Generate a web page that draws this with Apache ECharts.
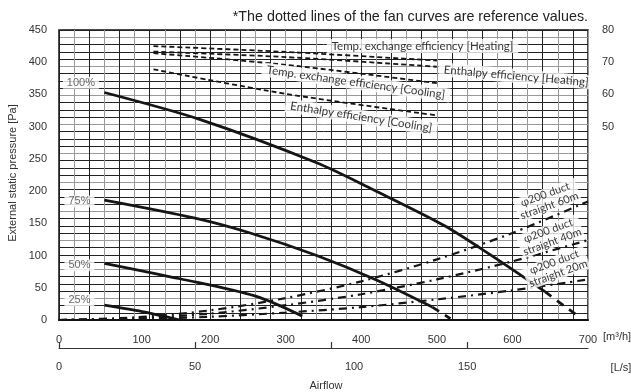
<!DOCTYPE html>
<html><head><meta charset="utf-8">
<script src="https://cdn.jsdelivr.net/npm/echarts@6/dist/echarts.min.js"></script>
<style>html,body{margin:0;padding:0;background:#fff}#c{width:631px;height:392px}</style>
</head><body><div id="c"></div>
<script>
// ---- tick labels ----
const airflowM3hTicks = [0, 100, 200, 300, 400, 500, 600, 700];
const airflowLsTicks = [0, 50, 100, 150];
const pressureTicks = [0, 50, 100, 150, 200, 250, 300, 350, 400, 450];
const efficiencyTicks = [50, 60, 70, 80];

// ---- fan curves [m3/h, Pa] ----
const fan100 = [[60, 353], [187, 311], [341, 244], [416, 202], [509, 147], [571, 101], [643, 44]];
const fan100Ref = [[643, 44], [688, 5]];
const fan75 = [[60, 186], [180, 158], [253, 135], [341, 100], [420, 62], [494, 20]];
const fan75Ref = [[494, 20], [518, 2]];
const fan50 = [[60, 88], [160, 64], [260, 37], [322, 6]];
const fan25 = [[60, 23], [110, 13], [160, 0]];
const fanLabels = ['100%', '75%', '50%', '25%'];

// ---- duct resistance curves [m3/h, Pa] ----
const duct60 = [[0, 0], [100, 4], [200, 15], [300, 34], [400, 60], [500, 94], [600, 135], [700, 184]];
const duct40 = [[0, 0], [100, 2.5], [200, 10], [300, 23], [400, 40], [500, 63], [600, 91], [700, 124]];
const duct20 = [[0, 0], [100, 1.3], [200, 5], [300, 11.5], [400, 20], [500, 32], [600, 46], [700, 63]];
const ductLabels = ['φ200 duct\nstraight 60m', 'φ200 duct\nstraight 40m', 'φ200 duct\nstraight 20m'];

// ---- efficiency curves [m3/h, %] ----
const tempHeating = [[125, 75], [300, 73.2], [500, 70.5]];
const enthHeating = [[125, 73.3], [300, 71.6], [500, 68.6]];
const tempCooling = [[125, 72.8], [300, 69.2], [500, 63.5]];
const enthCooling = [[125, 67.8], [300, 60.2], [500, 53.5]];
const effLabels = ['Temp. exchange efficiency [Heating]', 'Enthalpy efficiency [Heating]',
  'Temp. exchange efficiency [Cooling]', 'Enthalpy efficiency [Cooling]'];

const noteText = '*The dotted lines of the fan curves are reference values.';

// ---- label anchors (data coords on primary axes) ----
const fanLabelAnchors = [[29, 368], [27, 184], [27, 85], [27, 31]];
const effLabelAnchors = [[481, 425], [605, 378.6], [393, 368.6], [400, 315]];
const effLabelRotate = [0, -5, -8, -9];
const ductLabelAnchors = [[646, 186], [650, 130], [658, 81]];

const INK = '#151515';
const calibri = 'Lato, "Open Sans", sans-serif';
const arial = '"Liberation Sans", Arial, sans-serif';

function line(data, opts) {
  return Object.assign({
    type: 'line', data: data, xAxisIndex: 0, yAxisIndex: 0,
    symbol: 'none', smooth: 0.3, silent: true, z: 3,
    lineStyle: {color: INK, width: 2.6}
  }, opts);
}
const solid = {color: INK, width: 2.8};
const refDash = {color: INK, width: 2.8, type: [8, 7]};
const dashDot = {color: INK, width: 2.2, type: [8, 5, 2, 5]};
const effDash = {color: INK, width: 1.8, type: [5, 3]};

const chart = echarts.init(document.getElementById('c'), null, {renderer: 'canvas'});
chart.setOption({
  animation: false,
  backgroundColor: '#fff',
  grid: {left: 59, right: 43, top: 30, bottom: 72, show: true, borderColor: '#111', borderWidth: 1.5},
  graphic: [
    {type: 'text', right: 43, top: 10, style: {text: noteText, font: '14.3px ' + arial, fill: '#222'}},
    {type: 'text', x: 12.5, y: 173, rotation: Math.PI / 2,
      style: {text: 'External static pressure [Pa]', font: '11px ' + arial, fill: '#333', align: 'center', verticalAlign: 'middle'}},
    {type: 'text', x: 603, y: 337, style: {text: '[m³/h]', font: '11px ' + arial, fill: '#333', verticalAlign: 'middle'}},
    {type: 'text', x: 621, y: 367.5, style: {text: '[L/s]', font: '11px ' + arial, fill: '#333', align: 'center', verticalAlign: 'middle'}},
    {type: 'text', x: 326, y: 385.5, style: {text: 'Airflow', font: '11px ' + arial, fill: '#333', align: 'center', verticalAlign: 'middle'}}
  ],
  xAxis: [
    {type: 'value', min: 0, max: 700, interval: 20, position: 'bottom',
      axisLine: {show: true, onZero: false, lineStyle: {color: '#111', width: 2}},
      axisTick: {show: false},
      axisLabel: {interval: 4, margin: 14, fontSize: 11, color: '#333', fontFamily: arial,
        formatter: v => (airflowM3hTicks.indexOf(v) < 0 ? '' : (v === 100 ? '{s|' + v + '}' : String(v))),
        rich: {s: {padding: [0, 0, 0, 14], fontSize: 11, color: '#333', fontFamily: arial}}},
      splitLine: {show: true, lineStyle: {color: ['#222', '#999'], width: 1}}},
    {type: 'value', min: 0, max: 700 / 3.6, position: 'bottom', offset: 28,
      axisLine: {show: true, onZero: false, lineStyle: {color: '#333', width: 1.2}},
      axisTick: {show: true, inside: true, length: 6, customValues: airflowLsTicks, lineStyle: {color: '#333', width: 1.2}},
      axisLabel: {customValues: airflowLsTicks, margin: 13, fontSize: 11, color: '#333', fontFamily: arial,
        formatter: v => (v === 100 ? '{s|' + v + '}' : String(v)),
        rich: {s: {padding: [0, 0, 0, 46], fontSize: 11, color: '#333', fontFamily: arial}}},
      splitLine: {show: false}}
  ],
  yAxis: [
    {type: 'value', min: 0, max: 450, interval: 50, position: 'left',
      axisLine: {show: false}, axisTick: {show: false},
      axisLabel: {margin: 12, fontSize: 11, color: '#333', fontFamily: arial,
        formatter: v => (pressureTicks.indexOf(v) < 0 ? '' : String(v))},
      splitLine: {show: false}},
    {type: 'value', min: -10, max: 80, interval: 10, position: 'right',
      axisLine: {show: false}, axisTick: {show: false},
      axisLabel: {margin: 14, fontSize: 11, color: '#333', fontFamily: arial,
        formatter: v => (efficiencyTicks.indexOf(v) < 0 ? '' : String(v))},
      splitLine: {show: false}},
    {type: 'value', min: 0, max: 40, interval: 1, position: 'left',
      axisLine: {show: false}, axisTick: {show: false}, axisLabel: {show: false},
      splitLine: {show: true, lineStyle: {color: ['#222', '#222', '#222', '#999'], width: 1}}}
  ],
  series: [
    line(fan100, {lineStyle: solid}),
    line(fan100Ref, {lineStyle: refDash, smooth: false}),
    line(fan75, {lineStyle: solid}),
    line(fan75Ref, {lineStyle: refDash, smooth: false}),
    line(fan50, {lineStyle: solid}),
    line(fan25, {lineStyle: solid}),
    line(duct60, {lineStyle: dashDot}),
    line(duct40, {lineStyle: dashDot}),
    line(duct20, {lineStyle: dashDot}),
    line(tempHeating, {yAxisIndex: 1, lineStyle: effDash}),
    line(enthHeating, {yAxisIndex: 1, lineStyle: effDash}),
    line(tempCooling, {yAxisIndex: 1, lineStyle: effDash}),
    line(enthCooling, {yAxisIndex: 1, lineStyle: effDash}),
    {type: 'scatter', xAxisIndex: 0, yAxisIndex: 0, symbolSize: 0, silent: true, z: 10,
      data: fanLabels.map((t, i) => ({value: fanLabelAnchors[i], name: t})),
      label: {show: true, position: 'inside', formatter: p => p.name, fontSize: 11, color: '#444',
        fontFamily: arial, backgroundColor: '#fff', padding: [1, 4, 0, 4]}},
    {type: 'scatter', xAxisIndex: 0, yAxisIndex: 0, symbolSize: 0, silent: true, z: 10,
      data: effLabels.map((t, i) => ({value: effLabelAnchors[i], name: t, label: {rotate: effLabelRotate[i]}})),
      label: {show: true, position: 'inside', formatter: p => p.name, fontSize: 11.5, color: '#000',
        fontFamily: calibri, backgroundColor: '#fff', padding: [1, 5, 1, 5]}},
    {type: 'scatter', xAxisIndex: 0, yAxisIndex: 0, symbolSize: 0, silent: true, z: 10,
      data: ductLabels.map((t, i) => ({value: ductLabelAnchors[i], name: t})),
      label: {show: true, position: 'inside', formatter: p => p.name, fontSize: 11, lineHeight: 12, color: '#000',
        fontFamily: calibri, backgroundColor: '#fff', padding: [0, 2, 0, 2], rotate: 20, align: 'center'}}
  ]
});
</script></body></html>
